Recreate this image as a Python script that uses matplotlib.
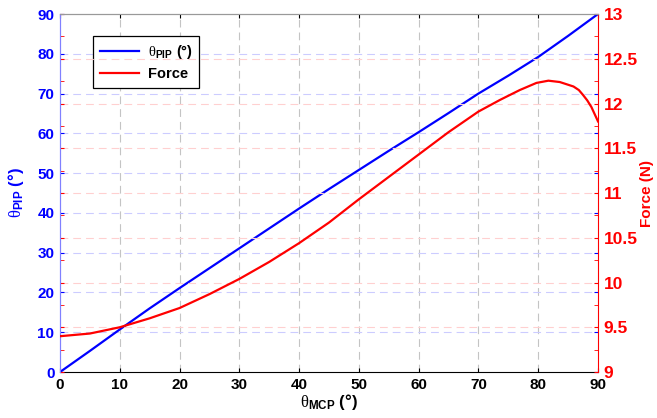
import matplotlib
matplotlib.use("Agg")
import matplotlib.pyplot as plt
from matplotlib.ticker import MultipleLocator

plt.rcParams['font.family'] = ['Liberation Sans', 'DejaVu Sans']
plt.rcParams['mathtext.fontset'] = 'custom'
plt.rcParams['mathtext.rm'] = 'Liberation Serif'
plt.rcParams['mathtext.it'] = 'Liberation Serif:italic'
plt.rcParams['mathtext.bf'] = 'Liberation Sans:bold'

# Data
theta_mcp = [0, 5, 10, 15, 20, 25, 30, 35, 40, 45, 50, 55, 60, 65, 70, 75, 80, 85, 90]
theta_pip = [0, 5.3, 10.7, 16.0, 21.1, 26.1, 31.1, 36.1, 41.1, 46.0, 50.8, 55.6, 60.3, 65.1, 70.0, 74.5, 79.2, 84.5, 90.0]

force_mcp = [0, 5, 10, 15, 20, 25, 30, 35, 40, 45, 50, 55, 60, 65, 70,
             73.6, 76.9, 79.7, 81.7, 83.6, 85.9, 86.8, 87.5, 88.2, 88.9, 90]
force = [9.40, 9.43, 9.50, 9.60, 9.715, 9.87, 10.04, 10.23, 10.44, 10.67, 10.93, 11.18, 11.43, 11.68, 11.91,
         12.04, 12.15, 12.23, 12.255, 12.24, 12.19, 12.15, 12.095, 12.035, 11.96, 11.80]

x_ticks = [0, 10, 20, 30, 40, 50, 60, 70, 80, 90]
left_ticks = [0, 10, 20, 30, 40, 50, 60, 70, 80, 90]
right_ticks = [9, 9.5, 10, 10.5, 11, 11.5, 12, 12.5, 13]

BLUE = '#0000ff'
RED = '#ff0000'
DASH = (0, (7, 4.5))

fig = plt.figure(figsize=(6.57, 4.18), dpi=100)
ax = fig.add_axes([0.0913, 0.110, 0.8189, 0.8565])
ax2 = ax.twinx()

# grids
for xv in x_ticks[1:-1]:
    ax.axvline(xv, color='#c4c4c4', ls=DASH, lw=0.8, zorder=0)
for yv in left_ticks[1:-1]:
    ax.axhline(yv, color='#ccccff', ls=DASH, lw=0.8, zorder=0)
for yv in right_ticks[1:-1]:
    ax2.axhline(yv, color='#ffd0d0', ls=DASH, lw=0.8, zorder=0)

l1, = ax.plot(theta_mcp, theta_pip, color=BLUE, lw=1.6, zorder=3)
l2, = ax2.plot(force_mcp, force, color=RED, lw=1.6, zorder=3)

ax.set_xlim(0, 90)
ax.set_ylim(0, 90)
ax2.set_ylim(9, 13)
ax.set_xticks(x_ticks)
ax.set_yticks(left_ticks)
ax2.set_yticks(right_ticks)
ax2.set_yticklabels(['{:g}'.format(v) for v in right_ticks])
ax2.yaxis.set_minor_locator(MultipleLocator(0.25))

ax.tick_params(axis='x', direction='in', length=3, top=True, colors='black',
               labelsize=11, pad=4)
ax.tick_params(axis='y', direction='in', length=3, colors=BLUE, labelsize=11, right=True, pad=4)
ax2.tick_params(axis='y', which='both', direction='in', length=3, colors=RED,
                labelsize=12.5, left=True, pad=4)
for lab in ax.get_xticklabels() + ax.get_yticklabels() + ax2.get_yticklabels():
    lab.set_fontweight('bold')

ax.spines['left'].set_color('#8080ff')
ax.spines['bottom'].set_color('black')
ax.spines['top'].set_color('#999999')
ax2.spines['right'].set_color(RED)
ax2.spines['left'].set_color('#8080ff')
ax2.spines['top'].set_color('#999999')
ax2.spines['bottom'].set_visible(False)
ax.spines['right'].set_visible(False)

ax.set_xlabel(r'$\mathrm{θ}_{\mathbf{MCP}}$ (°)', fontsize=12, fontweight='bold', labelpad=0)
ax.set_ylabel(r'$\mathrm{θ}_{\mathbf{PIP}}$ (°)', fontsize=12, fontweight='bold', color=BLUE, labelpad=8)
ax2.set_ylabel('Force (N)', fontsize=11, fontweight='bold', color=RED, labelpad=2)

leg = ax.legend([l1, l2], [r'$\mathrm{θ}_{\mathbf{PIP}}$ (°)', 'Force'],
                loc='upper left', bbox_to_anchor=(0.048, 0.958),
                frameon=True, fancybox=False, edgecolor='black', framealpha=1,
                prop={'weight': 'bold', 'size': 10.5}, handlelength=2.7,
                borderpad=0.45, labelspacing=0.45, handletextpad=0.6)
leg.get_frame().set_linewidth(0.9)
leg.set_zorder(10)

fig.savefig('out.png', dpi=100)
